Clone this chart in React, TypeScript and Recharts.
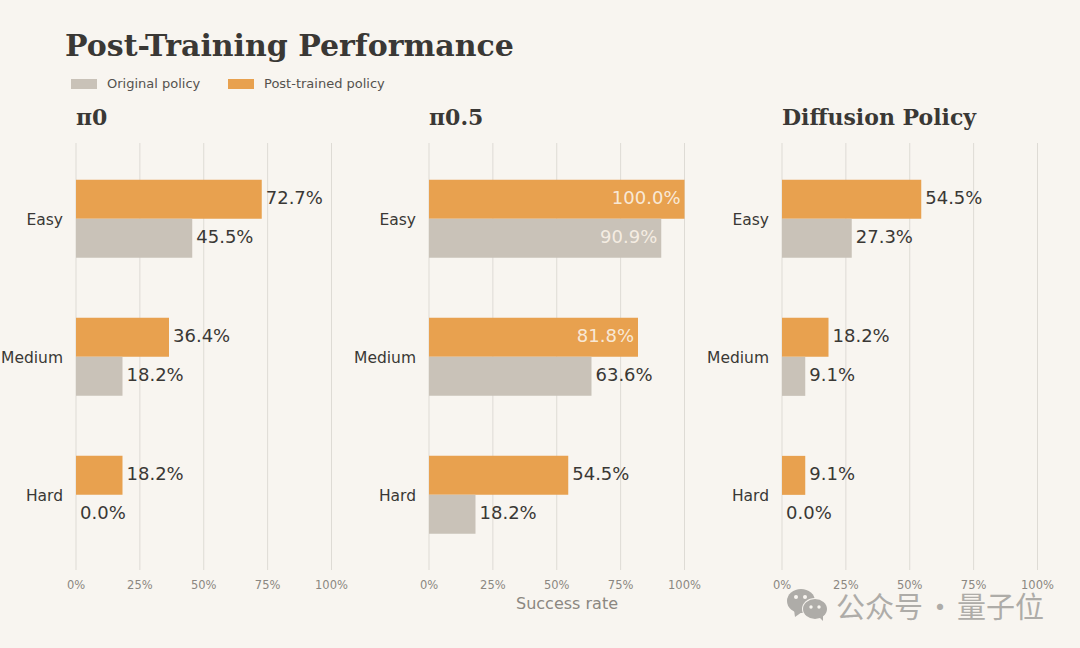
import { BarChart, Bar, XAxis, YAxis, CartesianGrid } from 'recharts'

const categories = ['Easy', 'Medium', 'Hard']
const panelNames = ['π0', 'π0.5', 'Diffusion Policy']
const xTicks = [0, 25, 50, 75, 100]

const pi0Original = [45.5, 18.2, 0]
const pi0Post = [72.7, 36.4, 18.2]
const pi05Original = [90.9, 63.6, 18.2]
const pi05Post = [100, 81.8, 54.5]
const diffusionOriginal = [27.3, 9.1, 0]
const diffusionPost = [54.5, 18.2, 9.1]

const originals = [pi0Original, pi05Original, diffusionOriginal]
const posts = [pi0Post, pi05Post, diffusionPost]

const SANS = '"DejaVu Sans", sans-serif'
const SERIF = '"DejaVu Serif", serif'
const ORANGE = '#e8a14f'
const GREY = '#c9c2b8'
const BG = '#f8f5f0'
const INK = '#3a3835'
const ICON = '#aeaca8'
const PANEL_STEP = 353

// big values sit inside the bar end, the rest just after it
const ValueLabel = ({ x, y, width, height, value }: any) => {
  const inside = value >= 80
  return (
    <text
      x={inside ? x + width - 4 : x + width + 4}
      y={y + height / 2 - 2}
      textAnchor={inside ? 'end' : 'start'}
      dominantBaseline="central"
      fontFamily={SANS}
      fontSize={18}
      fill={inside ? '#fbf3e8' : INK}
      fillOpacity={inside ? 0.9 : 1}
    >
      {Number(value).toFixed(1)}%
    </text>
  )
}

function Panel({ index }: { index: number }) {
  const rows = categories.map((name, i) => ({
    name,
    post: posts[index][i],
    original: originals[index][i],
  }))

  return (
    <BarChart
      width={351.5}
      height={600}
      data={rows}
      layout="vertical"
      barCategoryGap="22%"
      barGap={0}
      margin={{ top: 143, right: 20, bottom: 0, left: 0 }}
      style={{ position: 'absolute', left: index * PANEL_STEP, top: 0 }}
    >
      <CartesianGrid horizontal={false} stroke="#dedbd5" strokeWidth={1} />
      <XAxis
        type="number"
        domain={[0, 100]}
        ticks={xTicks}
        tickFormatter={v => `${v}%`}
        axisLine={false}
        tickLine={false}
        tickMargin={5}
        tick={{ fontSize: 11.5, fontFamily: SANS, fill: '#8b8781' }}
      />
      <YAxis
        type="category"
        dataKey="name"
        width={76}
        padding={{ top: 6.5, bottom: 6.5 }}
        axisLine={false}
        tickLine={false}
        tickMargin={7}
        tick={{ fontSize: 15.5, fontFamily: SANS, fill: INK, dy: 1 }}
      />
      {/* minPointSize keeps the zero bars alive so their 0.0% label is drawn */}
      <Bar dataKey="post" fill={ORANGE} isAnimationActive={false} label={ValueLabel} minPointSize={0.01} />
      <Bar dataKey="original" fill={GREY} isAnimationActive={false} label={ValueLabel} minPointSize={0.01} />
    </BarChart>
  )
}

function Swatch({ left, color }: { left: number; color: string }) {
  return <div style={{ position: 'absolute', left, top: 79, width: 26, height: 10, background: color }} />
}

function Text({ style, children }: any) {
  return <div style={{ position: 'absolute', whiteSpace: 'nowrap', ...style }}>{children}</div>
}

export default function App() {
  return (
    <div style={{ position: 'fixed', left: 0, top: 0, width: 1080, height: 648, background: BG, overflow: 'hidden' }}>
      <Text style={{ left: 65, top: 28, fontFamily: SERIF, fontWeight: 700, fontSize: 30, color: INK }}>
        Post-Training Performance
      </Text>

      <Swatch left={71} color={GREY} />
      <Text style={{ left: 107, top: 76, fontFamily: SANS, fontSize: 13, color: '#55524e' }}>Original policy</Text>
      <Swatch left={228} color={ORANGE} />
      <Text style={{ left: 264, top: 76, fontFamily: SANS, fontSize: 13, color: '#55524e' }}>Post-trained policy</Text>

      {panelNames.map((name, i) => (
        <Text key={name} style={{ left: 76 + i * PANEL_STEP, top: 104, fontFamily: SERIF, fontWeight: 700, fontSize: 22, color: INK }}>
          {name}
        </Text>
      ))}

      {panelNames.map((name, i) => <Panel key={name} index={i} />)}

      <Text style={{ left: 516, top: 594, fontFamily: SANS, fontSize: 16, color: '#8b8781' }}>Success rate</Text>

      {/* watermark */}
      <svg width={44} height={36} style={{ position: 'absolute', left: 786, top: 586 }}>
        <ellipse cx={15} cy={15} rx={14} ry={12} fill={ICON} />
        <path d="M8 24 L9 31 L16 26 Z" fill={ICON} />
        <circle cx={10} cy={11} r={2} fill={BG} />
        <circle cx={19} cy={11} r={2} fill={BG} />
        <ellipse cx={29} cy={23} rx={13} ry={11} fill={BG} />
        <ellipse cx={29} cy={23} rx={12} ry={10} fill={ICON} />
        <path d="M33 31 L37 35 L37 29 Z" fill={ICON} />
        <circle cx={25} cy={21} r={1.7} fill={BG} />
        <circle cx={33} cy={21} r={1.7} fill={BG} />
      </svg>
      <Text style={{ left: 836, top: 591, lineHeight: '28px', wordSpacing: -4, fontFamily: '"Noto Sans CJK SC"', fontSize: 29, color: ICON }}>
        公众号 · 量子位
      </Text>
    </div>
  )
}
